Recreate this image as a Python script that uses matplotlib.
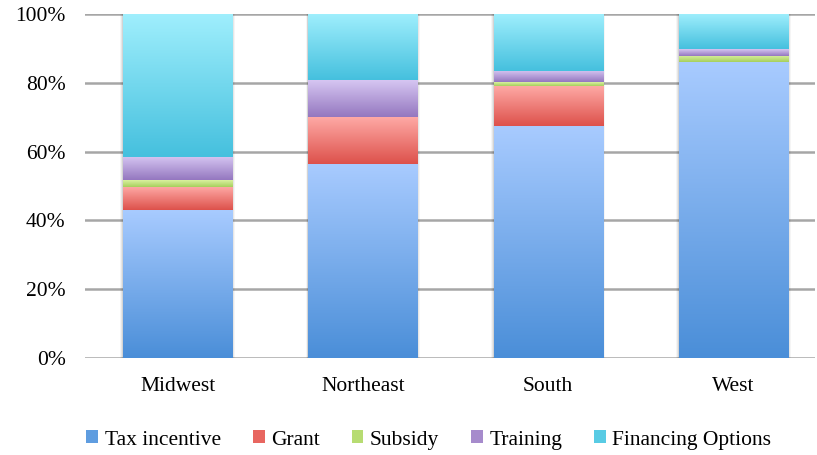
import numpy as np
import matplotlib.pyplot as plt
from matplotlib.colors import LinearSegmentedColormap
from matplotlib.patches import Patch

regions = ["Midwest", "Northeast", "South", "West"]
series = ["Tax incentive", "Grant", "Subsidy", "Training", "Financing Options"]
tax = [43.0, 56.4, 67.4, 86.0]
grant = [6.7, 13.7, 11.7, 0.0]
subsidy = [2.0, 0.0, 1.1, 1.8]
training = [6.7, 10.7, 3.2, 2.0]
financing = [41.6, 19.2, 16.6, 10.2]

# (top colour, bottom colour) for the vertical gradients
grads = [("#a8cbff", "#4a8ed8"),
         ("#ffaba7", "#dd514b"),
         ("#daf1a0", "#a6cf5c"),
         ("#d6c6f2", "#9477bf"),
         ("#a0effd", "#45c0de")]
legend_colors = ["#5f9de0", "#e86660", "#b7dc72", "#a68bcc", "#58cbe4"]

plt.rcParams['font.family'] = ['Liberation Serif', 'DejaVu Serif']

fig = plt.figure(figsize=(8.17, 4.55), dpi=100)
ax = fig.add_axes([0.104, 0.2132, 0.8935, 0.7558])

x = np.arange(len(regions))
bottom = np.zeros(len(regions))
width = 0.59
grad = np.linspace(0, 1, 256).reshape(-1, 1)
for vals, name, (top_c, bot_c) in zip([tax, grant, subsidy, training, financing], series, grads):
    vals = np.array(vals)
    bars = ax.bar(x, vals, width, bottom=bottom, color="none", label=name, zorder=3)
    cmap = LinearSegmentedColormap.from_list(name, [bot_c, top_c])
    for b in bars:
        if b.get_height() <= 0:
            continue
        x0, y0 = b.get_x(), b.get_y()
        ax.imshow(grad, cmap=cmap, origin="lower", aspect="auto",
                  extent=(x0, x0 + b.get_width(), y0, y0 + b.get_height()),
                  zorder=3, interpolation="bilinear")
    bottom += vals

# soft shadow behind each bar
for xi in x:
    for k, a in zip([0.045, 0.03, 0.015], [0.04, 0.06, 0.08]):
        ax.add_patch(plt.Rectangle((xi - width / 2 - k * 0.3, -0.3), width + 2 * k * 0.3, 100.6,
                                   facecolor="black", alpha=a, edgecolor="none", zorder=2))

ax.set_xlim(-0.5, 3.44)
ax.set_ylim(0, 100)
ax.set_yticks(np.arange(0, 101, 20))
ax.set_yticklabels([f"{v}%" for v in range(0, 101, 20)], fontsize=15.5)
ax.set_xticks(x)
ax.set_xticklabels(regions, fontsize=15.5)
ax.tick_params(axis="x", length=0, pad=14)
ax.tick_params(axis="y", length=0, pad=14)
ax.yaxis.grid(True, color="#a6a6a6", linewidth=1.8, zorder=0)
ax.set_axisbelow(True)
for s in ax.spines.values():
    s.set_visible(False)

handles = [Patch(facecolor=c, edgecolor="none") for c in legend_colors]
fig.legend(handles, series, loc="center", bbox_to_anchor=(0.525, 0.033), ncol=5,
           frameon=False, fontsize=15.5, handlelength=0.55, handleheight=0.55,
           handletextpad=0.3, columnspacing=1.48)

fig.savefig("out.png", dpi=100, facecolor="white")
